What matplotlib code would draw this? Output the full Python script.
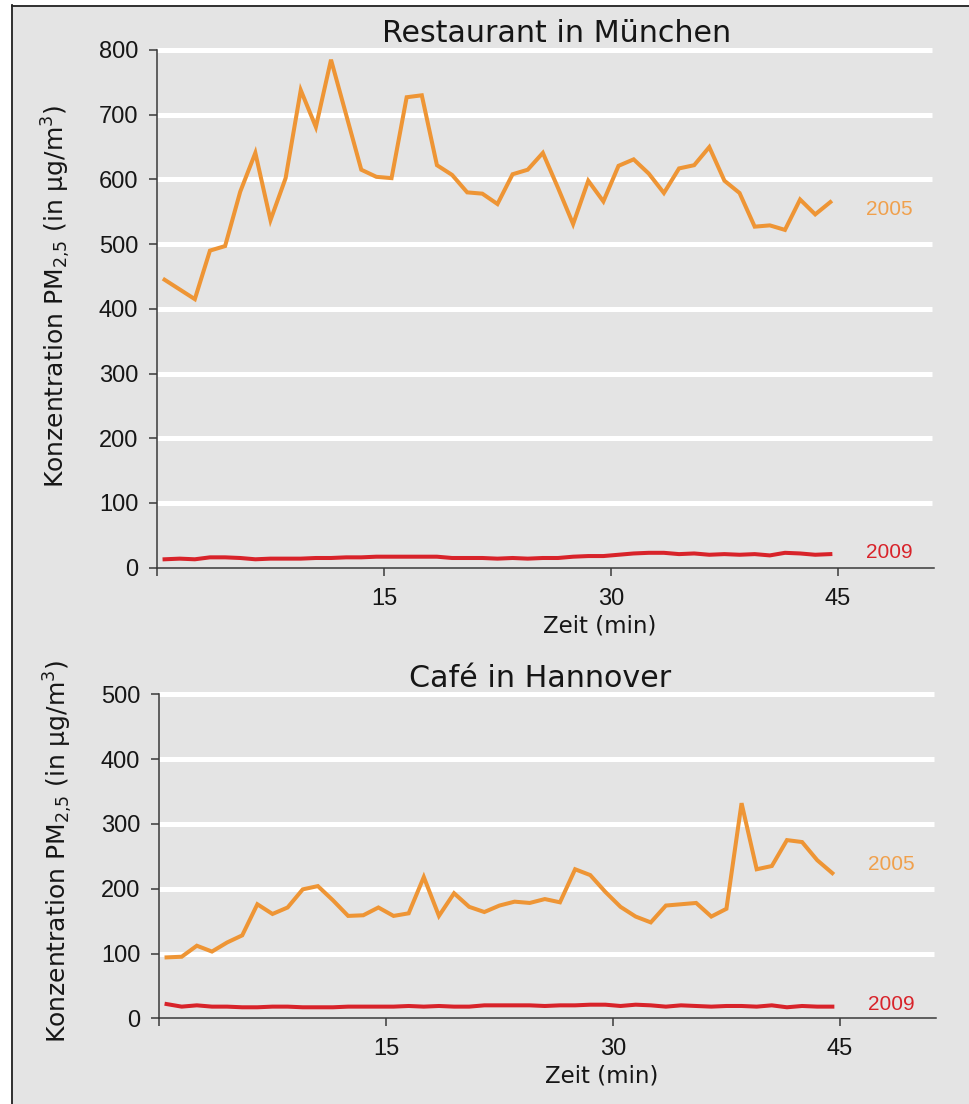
import matplotlib
matplotlib.use("Agg")
import matplotlib.pyplot as plt
from matplotlib.lines import Line2D

plt.rcParams['font.family'] = ['Liberation Sans', 'DejaVu Sans']
plt.rcParams['mathtext.fontset'] = 'dejavusans'

# time axis (minutes), one reading per minute
zeit = [i + 0.5 for i in range(45)]

muc_2005 = [445, 430, 415, 490, 497, 581, 641, 537, 602, 738,
            681, 785, 700, 615, 604, 602, 727, 730, 622, 607,
            580, 578, 562, 608, 615, 641, 587, 531, 598, 566,
            621, 631, 609, 579, 617, 622, 650, 598, 579, 527,
            529, 522, 569, 546, 565]
muc_2009 = [13, 14, 13, 16, 16, 15, 13, 14, 14, 14,
            15, 15, 16, 16, 17, 17, 17, 17, 17, 15,
            15, 15, 14, 15, 14, 15, 15, 17, 18, 18,
            20, 22, 23, 23, 21, 22, 20, 21, 20, 21,
            19, 23, 22, 20, 21]

han_2005 = [94, 95, 112, 103, 117, 128, 176, 161, 171, 199,
            204, 182, 158, 159, 171, 158, 162, 218, 158, 193,
            172, 164, 174, 180, 178, 184, 179, 230, 221, 195,
            172, 157, 148, 174, 176, 178, 157, 169, 332, 230,
            235, 275, 272, 244, 224]
han_2009 = [22, 18, 20, 18, 18, 17, 17, 18, 18, 17,
            17, 17, 18, 18, 18, 18, 19, 18, 19, 18,
            18, 20, 20, 20, 20, 19, 20, 20, 21, 21,
            19, 21, 20, 18, 20, 19, 18, 19, 19, 18,
            20, 17, 19, 18, 18]

x_ticks = [0, 15, 30, 45]
x_ticklabels = ['', '15', '30', '45']

BG = '#e4e4e4'
ORANGE = '#ee9535'
ORANGE_TXT = '#f0a04c'
RED = '#d8232a'
AXCOL = '#3a3a3a'
TXT = '#161616'
WIDE = 'DejaVu Sans'
W, H = 969, 1104

fig = plt.figure(figsize=(W / 100, H / 100), dpi=100, facecolor=BG)
# white margin left/top with a dark frame line
fig.patches.append(plt.Rectangle((0, 0), 11 / W, 1, transform=fig.transFigure,
                                 facecolor='white', edgecolor='none'))
fig.patches.append(plt.Rectangle((0, 1 - 5 / H), 1, 5 / H, transform=fig.transFigure,
                                 facecolor='white', edgecolor='none'))
fig.lines.append(Line2D([11.5 / W, 11.5 / W], [0, 1 - 5 / H], transform=fig.transFigure,
                        color='#222222', lw=1.3))
fig.lines.append(Line2D([11.5 / W, 1], [1 - 5.5 / H, 1 - 5.5 / H], transform=fig.transFigure,
                        color='#222222', lw=1.3))


def panel(rect, ymax, ystep, y05, y09, title, tx, ty, lab, xlab_y, ylab_y):
    ax = fig.add_axes(rect, facecolor=BG)
    yt = list(range(0, ymax + 1, ystep))
    ax.set_xlim(0, 51.35)
    ax.set_ylim(0, ymax)
    ax.hlines(yt[1:], 0, 51.2, color='white', lw=3.6, zorder=1, clip_on=False)
    ax.plot(zeit, y05, color=ORANGE, lw=2.9, zorder=3, solid_joinstyle='miter')
    ax.plot(zeit, y09, color=RED, lw=2.9, zorder=3)
    for s in ['top', 'right']:
        ax.spines[s].set_visible(False)
    for s in ['left', 'bottom']:
        ax.spines[s].set_color(AXCOL)
        ax.spines[s].set_linewidth(1.1)
    ax.set_yticks(yt)
    ax.set_xticks(x_ticks)
    ax.set_xticklabels(x_ticklabels)
    ax.tick_params(axis='both', colors=AXCOL, length=5.5, width=1.1,
                   labelsize=17, labelcolor=TXT)
    ax.tick_params(axis='x', pad=9)
    ax.tick_params(axis='y', pad=8)
    ax.text(tx, ty, title, transform=ax.transAxes, ha='center',
            va='baseline', fontsize=21.7, color=TXT, family=WIDE)
    ax.set_ylabel(r'Konzentration PM$_{2{,}5}$ (in µg/m$^3$)', fontsize=18,
                  color=TXT, family=WIDE)
    ax.yaxis.set_label_coords(-0.108, ylab_y)
    ax.set_xlabel('Zeit (min)', fontsize=16.5, color=TXT, family=WIDE)
    ax.xaxis.set_label_coords(0.57, xlab_y)
    ax.text(48.4, lab[0], '2005', color=ORANGE_TXT, fontsize=15,
            ha='center', va='center')
    ax.text(48.4, lab[1], '2009', color=RED, fontsize=15,
            ha='center', va='center')
    return ax


panel([157 / W, 1 - 567.7 / H, 777 / W, 517.7 / H], 800, 100,
      muc_2005, muc_2009, 'Restaurant in München', 0.514, 1.0149,
      (554, 24), -0.091, 0.524)
panel([159 / W, 1 - 1018.3 / H, 777 / W, 324 / H], 500, 100,
      han_2005, han_2009, 'Café in Hannover', 0.491, 1.0235,
      (237, 22), -0.144, 0.515)

fig.savefig('out.png', dpi=100, facecolor=BG)
